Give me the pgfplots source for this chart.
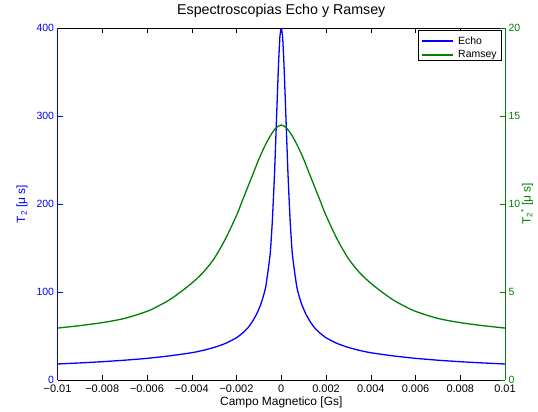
\documentclass[border=0pt]{standalone}
\usepackage{fontspec}
\setmainfont{Liberation Sans}
\usepackage{pgfplots}
\usepackage{pgfplotstable}
\pgfplotsset{compat=1.18}
\definecolor{mblue}{rgb}{0,0,1}
\definecolor{mgreen}{rgb}{0,0.5,0}

% Echo (T2 in us, left axis 0-400)
\pgfplotstableread{
x y
-0.010 18.2
-0.009 19.4
-0.008 20.8
-0.007 22.5
-0.006 24.6
-0.005 27.4
-0.004 31.0
-0.0035 33.6
-0.003 37.0
-0.0025 41.5
-0.002 48.0
-0.0017 54
-0.0015 59
-0.0013 66
-0.0011 75
-0.0009 87
-0.0007 105
-0.0005 142
-0.0004 180
-0.0003 235
-0.0002 305
-0.00012 360
-0.00006 390
0 400
0.00006 390
0.00012 360
0.0002 305
0.0003 235
0.0004 180
0.0005 142
0.0007 105
0.0009 87
0.0011 75
0.0013 66
0.0015 59
0.0017 54
0.002 48.0
0.0025 41.5
0.003 37.0
0.0035 33.6
0.004 31.0
0.005 27.4
0.006 24.6
0.007 22.5
0.008 20.8
0.009 19.4
0.010 18.2
}\echodata

% Ramsey (T2* in us, right axis 0-20)
\pgfplotstableread{
x y
-0.010 2.95
-0.009 3.09
-0.008 3.26
-0.007 3.50
-0.006 3.90
-0.0055 4.20
-0.005 4.55
-0.0045 5.00
-0.004 5.50
-0.0035 6.10
-0.003 6.90
-0.0025 8.00
-0.002 9.35
-0.00175 10.15
-0.0015 10.95
-0.00125 11.75
-0.001 12.55
-0.00075 13.25
-0.0005 13.85
-0.00025 14.30
0 14.49
0.00025 14.30
0.0005 13.85
0.00075 13.25
0.001 12.55
0.00125 11.75
0.0015 10.95
0.00175 10.15
0.002 9.35
0.0025 8.00
0.003 6.90
0.0035 6.10
0.004 5.50
0.0045 5.00
0.005 4.55
0.0055 4.20
0.006 3.90
0.007 3.50
0.008 3.26
0.009 3.09
0.010 2.95
}\ramseydata

\begin{document}
\begin{tikzpicture}
\pgfplotsset{
  common/.style={
    scale only axis, width=447.5bp, height=352bp,
    xmin=-0.01, xmax=0.01,
    scaled x ticks=false, scaled y ticks=false,
    tick align=inside,
    major tick length=5bp,
    /pgf/number format/assume math mode=true,
    tick label style={font=\fontsize{10.5}{12}\selectfont},
  },
}
% left axis: T2 scale, x axis, title
\begin{axis}[
  common,
  ymin=0, ymax=400,
  axis y line*=left,
  xtick={-0.01,-0.008,-0.006,-0.004,-0.002,0,0.002,0.004,0.006,0.008,0.01},
  xticklabels={−0.01,−0.008,−0.006,−0.004,−0.002,0,0.002,0.004,0.006,0.008,0.01},
  xticklabel style={font=\fontsize{11}{12}\selectfont, yshift=-1bp},
  ytick={0,100,200,300,400},
  yticklabel style={mblue},
  y axis line style={mblue, line width=0.8pt},
  ytick style={mblue},
  x axis line style={black, line width=0.6pt},
  xtick style={black},
  xlabel={Campo Magnetico [Gs]},
  xlabel style={font=\fontsize{12}{14}\selectfont, at={(axis description cs:0.5,-0.0645)}, anchor=center},
  ylabel={T\textsubscript{2} [μ s]},
  ylabel style={mblue, font=\fontsize{12}{14}\selectfont, at={(axis description cs:-0.0793,0.5)}, anchor=center},
  title={Espectroscopias Echo y Ramsey},
  title style={font=\fontsize{14.3}{16}\selectfont, at={(axis description cs:0.5,1.0213)}, anchor=base},
]
\addplot[mblue, line width=1.3pt, smooth, tension=0.3] table[x=x, y=y] {\echodata};
\end{axis}
% right axis: T2* scale
\begin{axis}[
  common,
  ymin=0, ymax=20,
  axis y line*=right,
  axis x line=none,
  ytick={0,5,10,15,20},
  yticklabel style={mgreen},
  y axis line style={mgreen, line width=0.8pt},
  ytick style={mgreen},
  ylabel={T\textsubscript{2}\textsuperscript{*} [μ s]},
  ylabel style={mgreen, font=\fontsize{12}{14}\selectfont, at={(axis description cs:1.049,0.5)}, anchor=center},
]
\addplot[mgreen, line width=1.3pt, smooth] table[x=x, y=y] {\ramseydata};
% legend box, keys and texts
\draw[black, line width=0.6pt, fill=white]
  (axis description cs:0.8056,0.9091) rectangle (axis description cs:0.9911,0.9943);
\draw[draw=mblue, line width=1.4pt]
  (axis description cs:0.8145,0.9631) -- (axis description cs:0.8838,0.9631);
\draw[draw=mgreen, line width=1.4pt]
  (axis description cs:0.8145,0.9233) -- (axis description cs:0.8838,0.9233);
\node[anchor=west, inner sep=0pt, font=\fontsize{10.5}{12}\selectfont]
  at (axis description cs:0.8950,0.9631) {Echo};
\node[anchor=west, inner sep=0pt, font=\fontsize{10.5}{12}\selectfont]
  at (axis description cs:0.8950,0.9233) {Ramsey};
\end{axis}
\pgfresetboundingbox
\path[use as bounding box] (-57.5bp,-32bp) rectangle (480.5bp,380bp);
\end{tikzpicture}
\end{document}
